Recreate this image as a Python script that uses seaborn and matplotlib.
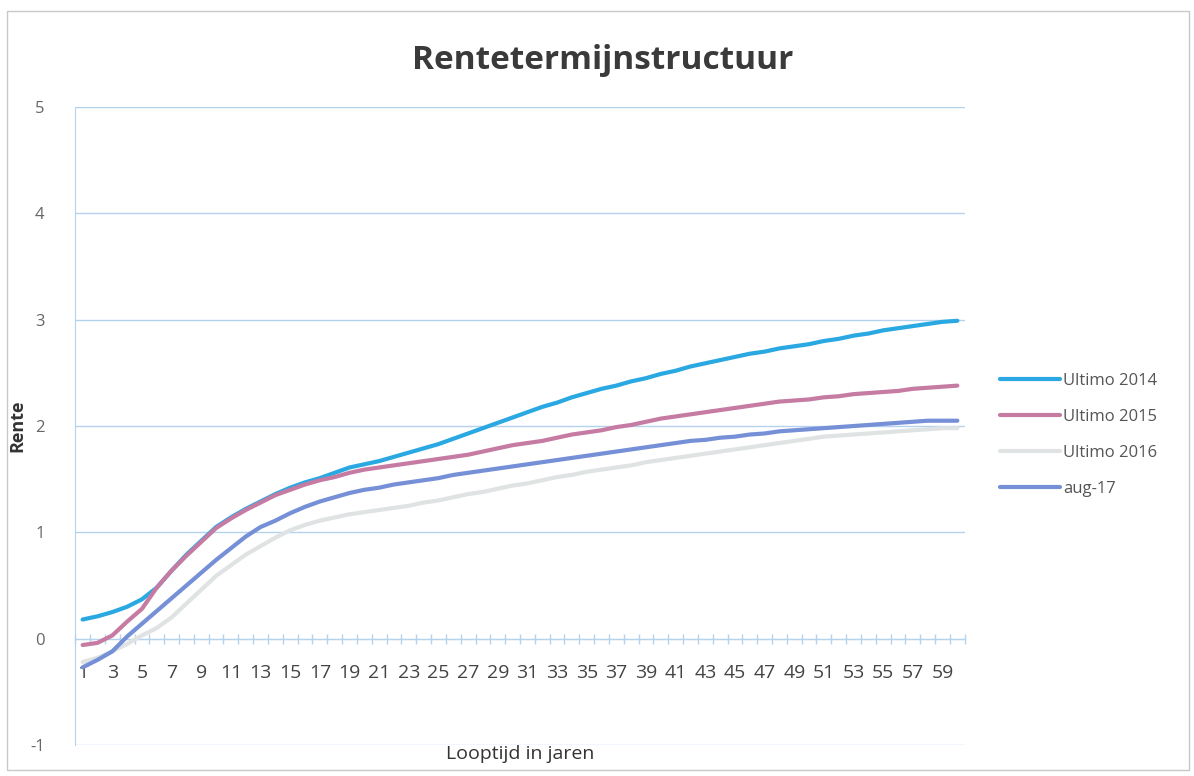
import pandas as pd
import matplotlib.pyplot as plt
import seaborn as sns
from matplotlib.lines import Line2D
from matplotlib.patches import Rectangle

# Looptijd (jaren) and rente per curve
looptijd = list(range(1, 61))

ultimo_2014 = [0.18, 0.21, 0.25, 0.30, 0.37, 0.48, 0.64, 0.79, 0.92, 1.05,
               1.14, 1.22, 1.29, 1.36, 1.42, 1.47, 1.51, 1.56, 1.61, 1.64,
               1.67, 1.71, 1.75, 1.79, 1.83, 1.88, 1.93, 1.98, 2.03, 2.08,
               2.13, 2.18, 2.22, 2.27, 2.31, 2.35, 2.38, 2.42, 2.45, 2.49,
               2.52, 2.56, 2.59, 2.62, 2.65, 2.68, 2.70, 2.73, 2.75, 2.77,
               2.80, 2.82, 2.85, 2.87, 2.90, 2.92, 2.94, 2.96, 2.98, 2.99]

ultimo_2015 = [-0.06, -0.04, 0.03, 0.16, 0.28, 0.48, 0.64, 0.78, 0.91, 1.04,
               1.13, 1.21, 1.28, 1.35, 1.40, 1.45, 1.49, 1.52, 1.56, 1.59,
               1.61, 1.63, 1.65, 1.67, 1.69, 1.71, 1.73, 1.76, 1.79, 1.82,
               1.84, 1.86, 1.89, 1.92, 1.94, 1.96, 1.99, 2.01, 2.04, 2.07,
               2.09, 2.11, 2.13, 2.15, 2.17, 2.19, 2.21, 2.23, 2.24, 2.25,
               2.27, 2.28, 2.30, 2.31, 2.32, 2.33, 2.35, 2.36, 2.37, 2.38]

ultimo_2016 = [-0.22, -0.18, -0.12, -0.05, 0.03, 0.10, 0.20, 0.33, 0.46, 0.59,
               0.69, 0.79, 0.87, 0.95, 1.02, 1.07, 1.11, 1.14, 1.17, 1.19,
               1.21, 1.23, 1.25, 1.28, 1.30, 1.33, 1.36, 1.38, 1.41, 1.44,
               1.46, 1.49, 1.52, 1.54, 1.57, 1.59, 1.61, 1.63, 1.66, 1.68,
               1.70, 1.72, 1.74, 1.76, 1.78, 1.80, 1.82, 1.84, 1.86, 1.88,
               1.90, 1.91, 1.92, 1.93, 1.94, 1.95, 1.96, 1.97, 1.98, 1.98]

aug_17 = [-0.27, -0.20, -0.12, 0.02, 0.14, 0.26, 0.38, 0.50, 0.62, 0.74,
          0.85, 0.96, 1.05, 1.11, 1.18, 1.24, 1.29, 1.33, 1.37, 1.40,
          1.42, 1.45, 1.47, 1.49, 1.51, 1.54, 1.56, 1.58, 1.60, 1.62,
          1.64, 1.66, 1.68, 1.70, 1.72, 1.74, 1.76, 1.78, 1.80, 1.82,
          1.84, 1.86, 1.87, 1.89, 1.90, 1.92, 1.93, 1.95, 1.96, 1.97,
          1.98, 1.99, 2.00, 2.01, 2.02, 2.03, 2.04, 2.05, 2.05, 2.05]

series_names = ["Ultimo 2014", "Ultimo 2015", "Ultimo 2016", "aug-17"]
colors = ["#2aa8e2", "#c67ba3", "#dfe3e3", "#7590d6"]
y_ticks = [-1, 0, 1, 2, 3, 4, 5]

df = pd.DataFrame({
    "Looptijd": looptijd * 4,
    "Rente": ultimo_2014 + ultimo_2015 + ultimo_2016 + aug_17,
    "Curve": sum([[n] * len(looptijd) for n in series_names], []),
})

sns.set_style("white")
plt.rcParams['font.family'] = ['Open Sans', 'DejaVu Sans']

fig = plt.figure(figsize=(11.94, 7.76), dpi=100)
ax = fig.add_axes([0.063, 0.040, 0.745, 0.822])

# grid lines first so the curves sit on top
for yv in y_ticks:
    ax.axhline(yv, color="#b3d2ee", lw=1, zorder=0)

# draw the light grey 2016 curve under the others, like the original
order = ["Ultimo 2016", "Ultimo 2014", "Ultimo 2015", "aug-17"]
for name in order:
    sub = df[df["Curve"] == name]
    sns.lineplot(data=sub, x="Looptijd", y="Rente", ax=ax,
                 color=colors[series_names.index(name)], lw=3, zorder=3)

# category axis: points sit between the tick marks
ax.set_xlim(0.5, 60.5)
ax.set_ylim(-1, 5)
ax.set_yticks(y_ticks)
ax.set_yticklabels([str(v) for v in y_ticks], color="#666666", fontsize=12)
ax.tick_params(axis="y", length=0, pad=22)

ax.spines["bottom"].set_position(("data", 0))
ax.spines["bottom"].set_color("#b3d2ee")
ax.spines["left"].set_color("#b3d2ee")
ax.spines["top"].set_visible(False)
ax.spines["right"].set_visible(False)
ax.set_xticks(looptijd)
ax.set_xticklabels([str(k) if k % 2 == 1 else "" for k in looptijd],
                   color="#444444", fontsize=14)
ax.tick_params(axis="x", which="major", length=0, pad=18)
ax.set_xticks([k + 0.5 for k in [0] + looptijd], minor=True)
ax.tick_params(axis="x", which="minor", bottom=True, direction="inout",
               length=7, width=1, color="#b3d2ee")

ax.set_xlabel("Looptijd in jaren", fontsize=14, color="#333333", labelpad=0)
ax.xaxis.set_label_coords(0.5, -0.0)
ax.set_ylabel("Rente", fontsize=13, fontweight="bold", color="#333333")
ax.yaxis.set_label_coords(-0.055, 0.5)

fig.text(0.505, 0.922, "Rentetermijnstructuur", ha="center", va="center",
         fontsize=24, fontweight="bold", color="#3a3a3a")

handles = [Line2D([0], [0], color=c, lw=3) for c in colors]
fig.legend(handles, series_names, loc="center left",
           bbox_to_anchor=(0.825, 0.44), frameon=False, fontsize=12,
           labelcolor="#555555", handlelength=3.6, handletextpad=0.2,
           labelspacing=1.2)

# faint outline of the chart area
fig.patches.append(Rectangle((0.006, 0.008), 0.99, 0.978, transform=fig.transFigure,
                             fill=False, edgecolor="#c8c8c8", lw=1))

fig.savefig("out.png", dpi=100)
